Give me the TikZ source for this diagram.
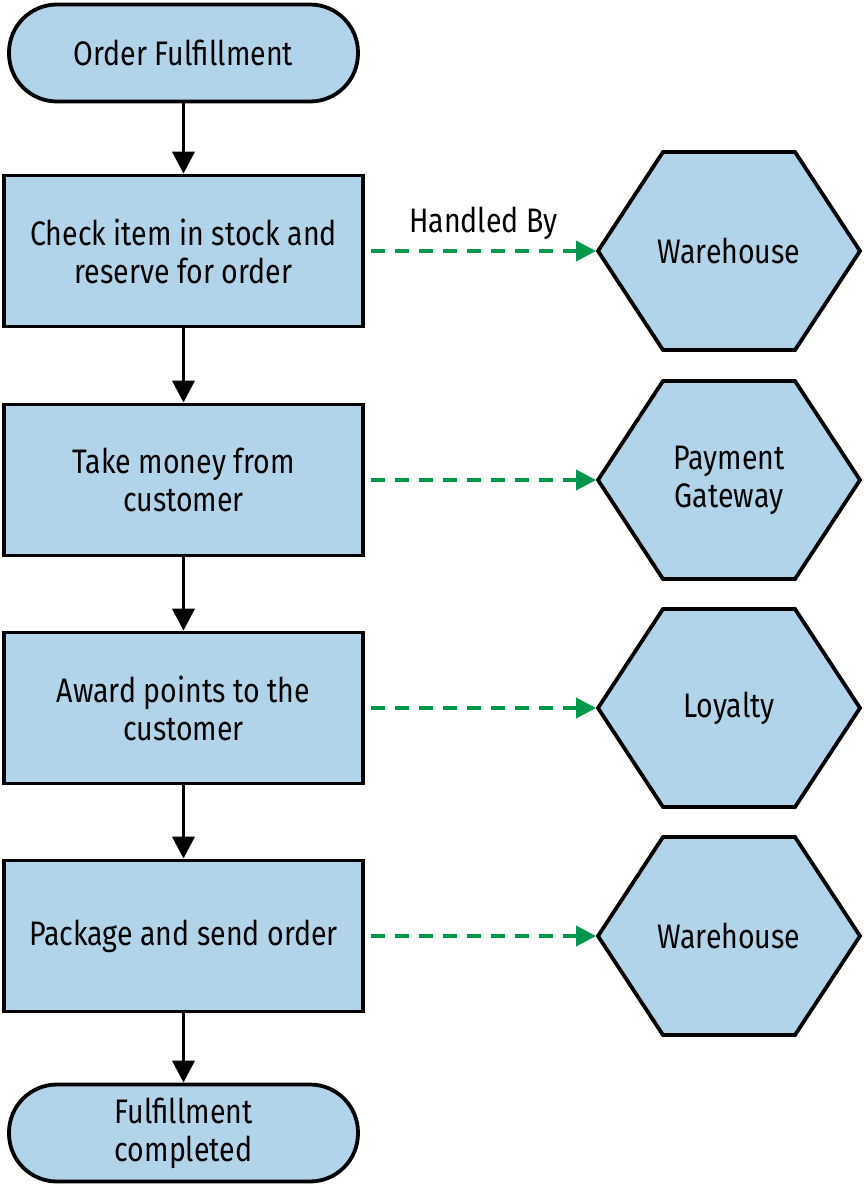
\documentclass[tikz,border=0pt]{standalone}
\usepackage{fontspec}
\setmainfont[FakeStretch=0.84]{Fira Sans}
\usetikzlibrary{arrows.meta}
\definecolor{boxblue}{HTML}{B2D4EA}
\definecolor{dgreen}{HTML}{00984A}
\begin{document}
\begin{tikzpicture}[x=1pt,y=-1pt,
  txt/.style={font=\fontsize{34}{38}\selectfont, align=center},
  stepbox/.style={txt, draw, line width=3.8pt, fill=boxblue, minimum width=359pt, minimum height=151pt, inner sep=0pt},
  term/.style={txt, draw, line width=3.8pt, fill=boxblue, rounded corners=48pt, minimum width=349pt, minimum height=97pt, inner sep=0pt},
  hexbox/.style={txt, minimum width=266pt, minimum height=206pt, inner sep=0pt, outer sep=0pt,
    path picture={
      \coordinate (c) at (path picture bounding box.center);
      \draw[line width=3.8pt, fill=boxblue, line join=miter]
        ([xshift=-131pt]c) -- ([xshift=-66pt,yshift=99pt]c) -- ([xshift=66pt,yshift=99pt]c)
        -- ([xshift=131pt]c) -- ([xshift=66pt,yshift=-99pt]c) -- ([xshift=-66pt,yshift=-99pt]c) -- cycle;
    }},
  flow/.style={line width=3.8pt, -{Triangle[width=22pt,length=22pt]}},
  handled/.style={line width=3.8pt, dgreen, dash pattern=on 14pt off 10pt, -{Triangle[width=20pt,length=20pt]}}
]
\useasboundingbox (0,0) rectangle (864,1187);
\node[term] (start) at (183.5,53) {Order Fulfillment};
\node[stepbox] (s1) at (183.5,251) {Check item in stock and\\reserve for order};
\node[stepbox] (s2) at (183.5,480) {Take money from\\customer};
\node[stepbox] (s3) at (183.5,708) {Award points to the\\customer};
\node[stepbox] (s4) at (183.5,936) {Package and send order};
\node[term] (end) at (183.5,1133) {Fulfillment\\completed};

\node[hexbox] (h1) at (729,251) {Warehouse};
\node[hexbox] (h2) at (729,480) {Payment\\Gateway};
\node[hexbox] (h3) at (729,708) {Loyalty};
\node[hexbox] (h4) at (729,936) {Warehouse};

\draw[flow] (start.south) -- (s1.north);
\draw[flow] (s1.south) -- (s2.north);
\draw[flow] (s2.south) -- (s3.north);
\draw[flow] (s3.south) -- (s4.north);
\draw[flow] (s4.south) -- (end.north);

\draw[handled] ([xshift=6pt]s1.east) -- (h1.west) node[midway, above=6pt, black, txt] {Handled By};
\draw[handled] ([xshift=6pt]s2.east) -- (h2.west);
\draw[handled] ([xshift=6pt]s3.east) -- (h3.west);
\draw[handled] ([xshift=6pt]s4.east) -- (h4.west);
\end{tikzpicture}
\end{document}
